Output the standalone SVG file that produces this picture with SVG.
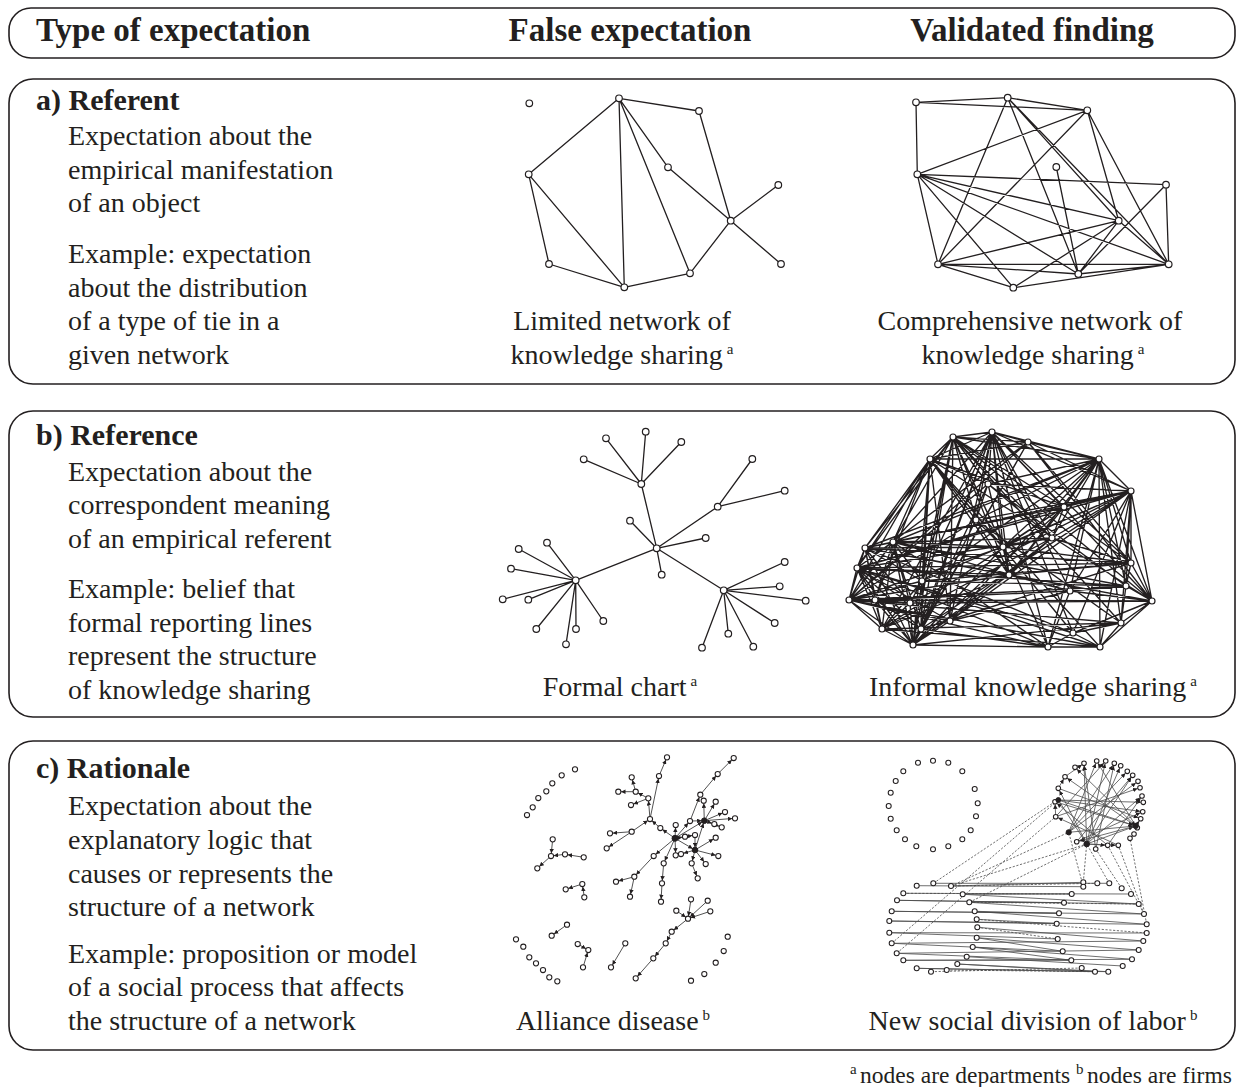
<svg xmlns="http://www.w3.org/2000/svg" width="1236" height="1087" viewBox="0 0 1236 1087">
<defs>
<style>
.box{fill:none;stroke:#231f20;stroke-width:1.6}
text{font-family:"Liberation Serif","Times New Roman",serif;fill:#231f20}
.h{font-size:33px;font-weight:bold}
.t{font-size:30px;font-weight:bold}
.b{font-size:28px}
.c{font-size:28px;text-anchor:middle}
.f{font-size:23.5px}
.sup{font-size:15px}
.e{stroke:#231f20;stroke-width:1.3;fill:none;stroke-linecap:round}
.ed{stroke:#231f20;stroke-width:1.35;fill:none}
.n{fill:#fff;stroke:#231f20;stroke-width:1.2}
.ec{stroke:#333;stroke-width:0.85;fill:none}
.eg{stroke:#4a4a4a;stroke-width:0.8;fill:none}
.dash{stroke-dasharray:2.2 1.6}
.ns{fill:#fff;stroke:#231f20;stroke-width:1.05}
.hub{fill:#231f20;stroke:#231f20;stroke-width:1}
</style>
<marker id="arr" viewBox="0 0 10 10" refX="16" refY="5" markerWidth="4.5" markerHeight="4.5" markerUnits="userSpaceOnUse" orient="auto">
<path d="M0 0L10 5L0 10z" fill="#231f20"/>
</marker>
</defs>
<rect width="1236" height="1087" fill="#fff"/>

<!-- column header -->
<g id="header">
<rect class="box" x="9" y="8" width="1226" height="50" rx="22"/>
<text class="h" x="36" y="41">Type of expectation</text>
<text class="h" x="630" y="41" text-anchor="middle">False expectation</text>
<text class="h" x="1032" y="41" text-anchor="middle">Validated finding</text>
</g>

<!-- row a: referent -->
<g id="row-a">
<rect class="box" x="9" y="79" width="1226" height="305" rx="24"/>
<text class="t" x="36" y="110">a) Referent</text>
<text class="b" x="68" y="145">Expectation about the</text>
<text class="b" x="68" y="179">empirical manifestation</text>
<text class="b" x="68" y="212">of an object</text>
<text class="b" x="68" y="263">Example: expectation</text>
<text class="b" x="68" y="297">about the distribution</text>
<text class="b" x="68" y="330">of a type of tie in a</text>
<text class="b" x="68" y="364">given network</text>
<text class="c" x="622" y="330">Limited network of</text>
<text class="c" x="622" y="364">knowledge sharing<tspan class="sup" dx="4" dy="-10">a</tspan></text>
<text class="c" x="1030" y="330">Comprehensive network of</text>
<text class="c" x="1033" y="364">knowledge sharing<tspan class="sup" dx="4" dy="-10">a</tspan></text>
</g>

<g id="net-a-false">
<g id="net-a-false-edges" class="e">
<path d="M619 98.3L699 111M619 98.3L528.7 174.3M619 98.3L624.3 287.3M619 98.3L690 273.3M619 98.3L668 167.3M668 167.3L730.7 220.7M699 111L730.7 220.7M730.7 220.7L778.3 185M730.7 220.7L781 264M730.7 220.7L690 273.3M528.7 174.3L549 264M528.7 174.3L624.3 287.3M549 264L624.3 287.3M624.3 287.3L690 273.3"/>
</g>
<g class="n">
<circle cx="529.3" cy="103.3" r="3.3"/><circle cx="619" cy="98.3" r="3.3"/><circle cx="699" cy="111" r="3.3"/><circle cx="528.7" cy="174.3" r="3.3"/><circle cx="668" cy="167.3" r="3.3"/><circle cx="778.3" cy="185" r="3.3"/><circle cx="730.7" cy="220.7" r="3.3"/><circle cx="549" cy="264" r="3.3"/><circle cx="781" cy="264" r="3.3"/><circle cx="624.3" cy="287.3" r="3.3"/><circle cx="690" cy="273.3" r="3.3"/>
</g>
</g>

<g id="net-a-valid">
<g id="net-a-valid-edges" class="e">
<path d="M916 102.3L1007.7 97.7M916 102.3L1087.3 110.3M916 102.3L917.3 174.3M1007.7 97.7L1087.3 110.3M1007.7 97.7L938 264.3M1007.7 97.7L1078.3 274M1007.7 97.7L1118.7 220.7M1007.7 97.7L1168.7 264.3M1087.3 110.3L917.3 174.3M1087.3 110.3L938 264.3M1087.3 110.3L1118.7 220.7M1087.3 110.3L1168.7 264.3M1056.3 167L1078.3 274M917.3 174.3L1166 184.7M917.3 174.3L1118.7 220.7M917.3 174.3L938 264.3M917.3 174.3L1078.3 274M917.3 174.3L1168.7 264.3M917.3 174.3L1013.3 287.7M1166 184.7L1168.7 264.3M1166 184.7L1078.3 274M1118.7 220.7L938 264.3M1118.7 220.7L1078.3 274M1118.7 220.7L1168.7 264.3M938 264.3L1078.3 274M938 264.3L1168.7 264.3M938 264.3L1013.3 287.7M1078.3 274L1168.7 264.3M1013.3 287.7L1168.7 264.3M1013.3 287.7L1118.7 220.7"/>
</g>
<g class="n">
<circle cx="916" cy="102.3" r="3.3"/><circle cx="1007.7" cy="97.7" r="3.3"/><circle cx="1087.3" cy="110.3" r="3.3"/><circle cx="1056.3" cy="167" r="3.3"/><circle cx="917.3" cy="174.3" r="3.3"/><circle cx="1166" cy="184.7" r="3.3"/><circle cx="1118.7" cy="220.7" r="3.3"/><circle cx="938" cy="264.3" r="3.3"/><circle cx="1078.3" cy="274" r="3.3"/><circle cx="1168.7" cy="264.3" r="3.3"/><circle cx="1013.3" cy="287.7" r="3.3"/>
</g>
</g>

<!-- row b: reference -->
<g id="row-b">
<rect class="box" x="9" y="411" width="1226" height="306" rx="24"/>
<text class="t" x="36" y="445">b) Reference</text>
<text class="b" x="68" y="481">Expectation about the</text>
<text class="b" x="68" y="514">correspondent meaning</text>
<text class="b" x="68" y="548">of an empirical referent</text>
<text class="b" x="68" y="598">Example: belief that</text>
<text class="b" x="68" y="632">formal reporting lines</text>
<text class="b" x="68" y="665">represent the structure</text>
<text class="b" x="68" y="699">of knowledge sharing</text>
<text class="c" x="620" y="696">Formal chart<tspan class="sup" dx="4" dy="-10">a</tspan></text>
<text class="c" x="1033" y="696">Informal knowledge sharing<tspan class="sup" dx="4" dy="-10">a</tspan></text>
</g>

<g id="net-b-false">
<g id="net-b-false-edges" class="e">
<path d="M656.7 548.3L641.3 484M656.7 548.3L717.7 506.7M656.7 548.3L575.7 580.3M656.7 548.3L723.7 590.3M641.3 484L606 438.3M641.3 484L645.7 431.7M641.3 484L681.3 442M641.3 484L583.7 459.3M717.7 506.7L752.3 459M717.7 506.7L784.7 490.7M656.7 548.3L630 520.7M656.7 548.3L705.7 538M656.7 548.3L661.7 574.7M575.7 580.3L547 542.7M575.7 580.3L518.7 549M575.7 580.3L511 568.7M575.7 580.3L502.7 599.3M575.7 580.3L528.3 599.7M575.7 580.3L536.3 629M575.7 580.3L566 644.3M575.7 580.3L576 629M575.7 580.3L603.3 621M723.7 590.3L784.7 562M723.7 590.3L779.7 586.3M723.7 590.3L805.7 600.7M723.7 590.3L774.7 623M723.7 590.3L753.3 646.7M723.7 590.3L728.3 633.7M723.7 590.3L702 647.7"/>
</g>
<g class="n">
<circle cx="656.7" cy="548.3" r="3.3"/><circle cx="641.3" cy="484" r="3.3"/><circle cx="717.7" cy="506.7" r="3.3"/><circle cx="575.7" cy="580.3" r="3.3"/><circle cx="723.7" cy="590.3" r="3.3"/>
<circle cx="606" cy="438.3" r="3.3"/><circle cx="645.7" cy="431.7" r="3.3"/><circle cx="681.3" cy="442" r="3.3"/><circle cx="583.7" cy="459.3" r="3.3"/><circle cx="752.3" cy="459" r="3.3"/><circle cx="784.7" cy="490.7" r="3.3"/><circle cx="630" cy="520.7" r="3.3"/><circle cx="705.7" cy="538" r="3.3"/><circle cx="661.7" cy="574.7" r="3.3"/>
<circle cx="547" cy="542.7" r="3.3"/><circle cx="518.7" cy="549" r="3.3"/><circle cx="511" cy="568.7" r="3.3"/><circle cx="502.7" cy="599.3" r="3.3"/><circle cx="528.3" cy="599.7" r="3.3"/><circle cx="536.3" cy="629" r="3.3"/><circle cx="566" cy="644.3" r="3.3"/><circle cx="576" cy="629" r="3.3"/><circle cx="603.3" cy="621" r="3.3"/>
<circle cx="784.7" cy="562" r="3.3"/><circle cx="779.7" cy="586.3" r="3.3"/><circle cx="805.7" cy="600.7" r="3.3"/><circle cx="774.7" cy="623" r="3.3"/><circle cx="753.3" cy="646.7" r="3.3"/><circle cx="728.3" cy="633.7" r="3.3"/><circle cx="702" cy="647.7" r="3.3"/>
</g>
</g>

<g id="net-b-valid">
<g id="net-b-valid-edges" class="ed">
<path d="M992 432L953 437M992 432L1028 442M992 432L930 459M992 432L1099 459M992 432L988 484M992 432L1064 507M992 432L976 520M992 432L1052 538M992 432L1003 547M992 432L1009 575M992 432L922 581M992 432L1070 591M992 432L950 621M992 432L921 629M992 432L1048 647M992 432L1073 633M992 432L893 542M992 432L1131 563M992 432L1131 491M992 432L913 645M992 432L1152 601
M953 437L1028 442M953 437L930 459M953 437L1099 459M953 437L988 484M953 437L976 520M953 437L893 542M953 437L865 548M953 437L1003 547M953 437L1009 575M953 437L922 581M953 437L950 621M953 437L921 629M953 437L1121 623M953 437L1052 538M953 437L1064 507M953 437L857 568M953 437L913 645M953 437L1152 601
M930 459L1028 442M930 459L1099 459M930 459L988 484M930 459L976 520M930 459L893 542M930 459L865 548M930 459L857 568M930 459L922 581M930 459L849 600M930 459L875 600M930 459L950 621M930 459L921 629M930 459L913 645M930 459L1003 547M930 459L1009 575M930 459L1064 507M930 459L1100 647
M1099 459L1028 442M1099 459L1131 491M1099 459L1064 507M1099 459L1052 538M1099 459L1003 547M1099 459L1131 563M1099 459L1009 575M1099 459L1070 591M1099 459L1126 586M1099 459L1152 601M1099 459L1121 623M1099 459L1048 647M1099 459L1100 647M1099 459L976 520M1099 459L988 484M1099 459L893 542M1099 459L922 581M1099 459L865 548
M1131 491L1028 442M1131 491L1064 507M1131 491L1052 538M1131 491L1131 563M1131 491L1070 591M1131 491L1126 586M1131 491L1152 601M1131 491L1121 623M1131 491L1100 647M1131 491L1003 547M1131 491L976 520M1131 491L893 542M1131 491L865 548M1131 491L857 568M1131 491L988 484M1131 491L922 581M1131 491L1073 633
M893 542L865 548M893 542L857 568M893 542L849 600M893 542L875 600M893 542L882 629M893 542L913 645M893 542L910 603M893 542L922 581M893 542L921 629M865 548L857 568M865 548L849 600M865 548L875 600M865 548L882 629M865 548L913 645M865 548L910 603M865 548L922 581M857 568L849 600M857 568L875 600M857 568L882 629M857 568L913 645M857 568L910 603M857 568L921 629M849 600L875 600M849 600L882 629M849 600L913 645M849 600L910 603M849 600L922 581M875 600L882 629M875 600L913 645M875 600L910 603M875 600L921 629M882 629L913 645M882 629L910 603M882 629L922 581M913 645L910 603M913 645L922 581M913 645L921 629M910 603L922 581M922 581L921 629M950 621L913 645M950 621L849 600M950 621L857 568
M857 568L1131 563M865 548L1131 563M857 568L1126 586M849 600L1152 601M865 548L1152 601M875 600L1152 601M849 600L1126 586M893 542L1126 586M857 568L1131 491M865 548L1099 459M893 542L1064 507M875 600L1070 591M882 629L1121 623M913 645L1121 623M849 600L1121 623M882 629L1100 647M913 645L1048 647M921 629L1048 647M950 621L1070 591M921 629L1131 563M910 603L1152 601M922 581L1126 586M922 581L1131 563M857 568L1052 538M865 548L1003 547M893 542L1003 547M865 548L1064 507M893 542L1052 538
M1131 563L1152 601M1131 563L1126 586M1152 601L1126 586M1152 601L1121 623M1152 601L1100 647M1152 601L1073 633M1152 601L1070 591M1126 586L1121 623M1126 586L1070 591M1121 623L1100 647M1121 623L1073 633M1048 647L1100 647M1048 647L1073 633M1100 647L1073 633M1070 591L1048 647M1070 591L1009 575M1131 563L1003 547M1131 563L1009 575M1131 563L1052 538M1052 538L1009 575M1052 538L1003 547M1052 538L1064 507M1064 507L1003 547M1064 507L1009 575M1003 547L1009 575M988 484L976 520M988 484L1003 547M988 484L1052 538M976 520L1003 547M976 520L1009 575
M1009 575L913 645M1009 575L849 600M1009 575L882 629M1003 547L913 645M1003 547L849 600M1048 647L849 600M1048 647L857 568M1100 647L857 568M1100 647L849 600M1073 633L865 548M1048 647L893 542M1028 442L857 568M1028 442L849 600M1028 442L913 645M988 484L913 645M988 484L849 600M976 520L849 600M976 520L913 645M950 621L1052 538M950 621L1099 459M921 629L1131 491M1052 538L913 645M1064 507L882 629M1064 507L857 568M1070 591L893 542M1073 633L857 568M992 432L1131 563M953 437L1131 563M930 459L1152 601M1028 442L1152 601M1028 442L1131 563M1028 442L1131 491
M953 437L1048 647M930 459L1073 633M992 432L882 629M1028 442L921 629M1099 459L950 621M1131 491L950 621M988 484L1126 586M976 520L1121 623M865 548L1009 575M857 568L1009 575M849 600L1003 547M1064 507L913 645M1052 538L882 629M910 603L1131 491M922 581L1099 459"/>
</g>
<g class="n">
<circle cx="953" cy="437" r="3"/><circle cx="992" cy="432" r="3"/><circle cx="1028" cy="442" r="3"/><circle cx="930" cy="459" r="3"/><circle cx="1099" cy="459" r="3"/><circle cx="1131" cy="491" r="3"/><circle cx="988" cy="484" r="3"/><circle cx="1064" cy="507" r="3"/><circle cx="976" cy="520" r="3"/><circle cx="893" cy="542" r="3"/><circle cx="865" cy="548" r="3"/><circle cx="1052" cy="538" r="3"/><circle cx="1003" cy="547" r="3"/><circle cx="857" cy="568" r="3"/><circle cx="1131" cy="563" r="3"/><circle cx="1009" cy="575" r="3"/><circle cx="922" cy="581" r="3"/><circle cx="849" cy="600" r="3"/><circle cx="875" cy="600" r="3"/><circle cx="1070" cy="591" r="3"/><circle cx="1126" cy="586" r="3"/><circle cx="1152" cy="601" r="3"/><circle cx="950" cy="621" r="3"/><circle cx="882" cy="629" r="3"/><circle cx="921" cy="629" r="3"/><circle cx="1121" cy="623" r="3"/><circle cx="913" cy="645" r="3"/><circle cx="1048" cy="647" r="3"/><circle cx="1100" cy="647" r="3"/><circle cx="1073" cy="633" r="3"/><circle cx="910" cy="603" r="3"/>
</g>
</g>

<!-- row c: rationale -->
<g id="row-c">
<rect class="box" x="9" y="741" width="1226" height="309" rx="24"/>
<text class="t" x="36" y="778">c) Rationale</text>
<text class="b" x="68" y="815">Expectation about the</text>
<text class="b" x="68" y="849">explanatory logic that</text>
<text class="b" x="68" y="883">causes or represents the</text>
<text class="b" x="68" y="916">structure of a network</text>
<text class="b" x="68" y="963">Example: proposition or model</text>
<text class="b" x="68" y="996">of a social process that affects</text>
<text class="b" x="68" y="1030">the structure of a network</text>
<text class="c" x="613" y="1030">Alliance disease<tspan class="sup" dx="4" dy="-10">b</tspan></text>
<text class="c" x="1033" y="1030">New social division of labor<tspan class="sup" dx="4" dy="-10">b</tspan></text>
</g>

<g id="net-c-false">
<g id="net-c-false-edges" class="ec" marker-end="url(#arr)">
<line x1="552.7" y1="839.3" x2="551" y2="856"/><line x1="551" y1="856" x2="537.3" y2="868.3"/><line x1="565" y1="854.3" x2="551" y2="856"/><line x1="583.7" y1="857.3" x2="565" y2="854.3"/>
<line x1="582.3" y1="884" x2="565.7" y2="889.3"/><line x1="584.3" y1="897.3" x2="582.3" y2="884"/>
<line x1="567" y1="924.7" x2="551.7" y2="935.7"/>
<line x1="577.7" y1="944" x2="588.3" y2="950"/><line x1="583" y1="967.3" x2="588.3" y2="950"/>
<line x1="625.3" y1="943.3" x2="611" y2="967.3"/>
<line x1="691" y1="899.3" x2="688" y2="918.7"/><line x1="707.7" y1="900.7" x2="688" y2="918.7"/><line x1="710.3" y1="911.3" x2="688" y2="918.7"/><line x1="676.3" y1="910.7" x2="688" y2="918.7"/><line x1="688" y1="918.7" x2="671.7" y2="931.7"/><line x1="671.7" y1="931.7" x2="665.7" y2="943.3"/><line x1="665.7" y1="943.3" x2="653.3" y2="958.3"/><line x1="653.3" y1="958.3" x2="635.7" y2="978.3"/>
<line x1="650" y1="819" x2="659" y2="776"/><line x1="659" y1="776" x2="667" y2="757.3"/><line x1="650" y1="819" x2="648.3" y2="798.3"/><line x1="648.3" y1="798.3" x2="635.7" y2="791.7"/><line x1="635.7" y1="791.7" x2="631.7" y2="777.3"/><line x1="635.7" y1="791.7" x2="618.3" y2="791.7"/><line x1="648.3" y1="798.3" x2="631" y2="805"/>
<line x1="675" y1="838.3" x2="660.3" y2="828"/><line x1="660.3" y1="828" x2="650" y2="819"/><line x1="631.7" y1="831.7" x2="650" y2="819"/><line x1="631.7" y1="831.7" x2="610" y2="833.3"/><line x1="631.7" y1="831.7" x2="606.7" y2="848.3"/>
<line x1="675" y1="838.3" x2="653.7" y2="856"/><line x1="653.7" y1="856" x2="634.3" y2="876.7"/><line x1="634.3" y1="876.7" x2="616" y2="881.7"/><line x1="634.3" y1="876.7" x2="630" y2="896.7"/>
<line x1="675" y1="838.3" x2="663.7" y2="863.3"/><line x1="663.7" y1="863.3" x2="662" y2="883.3"/><line x1="662" y1="883.3" x2="661" y2="901.7"/>
<line x1="675" y1="838.3" x2="675.7" y2="855.3"/><line x1="675" y1="838.3" x2="675.7" y2="825"/><line x1="675" y1="838.3" x2="690" y2="821"/><line x1="690" y1="821" x2="700.3" y2="794.7"/><line x1="700.3" y1="794.7" x2="717.7" y2="774"/><line x1="717.7" y1="774" x2="733.7" y2="758"/>
<line x1="675" y1="838.3" x2="685" y2="836.7"/><line x1="685" y1="836.7" x2="695" y2="835"/><line x1="675" y1="838.3" x2="695" y2="850"/><line x1="695" y1="850" x2="681" y2="854"/><line x1="695" y1="850" x2="691.7" y2="863.3"/><line x1="691.7" y1="863.3" x2="697.7" y2="878.3"/><line x1="695" y1="850" x2="705.7" y2="864"/><line x1="695" y1="850" x2="718.3" y2="856"/><line x1="695" y1="850" x2="715.7" y2="837.7"/>
<line x1="675" y1="838.3" x2="704.3" y2="820.7"/><line x1="704.3" y1="820.7" x2="703.7" y2="800.7"/><line x1="704.3" y1="820.7" x2="715.7" y2="801.7"/><line x1="704.3" y1="820.7" x2="725" y2="812"/><line x1="704.3" y1="820.7" x2="735" y2="818.3"/><line x1="704.3" y1="820.7" x2="721.7" y2="827.3"/><line x1="704.3" y1="820.7" x2="714.3" y2="824"/><line x1="695" y1="850" x2="704.3" y2="820.7"/><line x1="695" y1="835" x2="695" y2="850"/><line x1="690" y1="821" x2="704.3" y2="820.7"/>
</g>
<g class="ns">
<circle cx="575" cy="769.3" r="2.6"/><circle cx="561.7" cy="775.3" r="2.6"/><circle cx="552.3" cy="783.3" r="2.6"/><circle cx="546.3" cy="791.3" r="2.6"/><circle cx="538.3" cy="798" r="2.6"/><circle cx="532.7" cy="807.3" r="2.6"/><circle cx="527" cy="815" r="2.6"/>
<circle cx="516" cy="939.3" r="2.6"/><circle cx="523.3" cy="946.7" r="2.6"/><circle cx="529.3" cy="957.3" r="2.6"/><circle cx="536" cy="963.3" r="2.6"/><circle cx="543" cy="970" r="2.6"/><circle cx="549.3" cy="977.3" r="2.6"/><circle cx="557.3" cy="981.3" r="2.6"/>
<circle cx="727.7" cy="936.7" r="2.6"/><circle cx="723.7" cy="951" r="2.6"/><circle cx="715.7" cy="962.7" r="2.6"/><circle cx="704.3" cy="974" r="2.6"/><circle cx="691" cy="980.7" r="2.6"/>
<circle cx="552.7" cy="839.3" r="2.6"/><circle cx="551" cy="856" r="2.6"/><circle cx="537.3" cy="868.3" r="2.6"/><circle cx="565" cy="854.3" r="2.6"/><circle cx="583.7" cy="857.3" r="2.6"/>
<circle cx="582.3" cy="884" r="2.6"/><circle cx="565.7" cy="889.3" r="2.6"/><circle cx="584.3" cy="897.3" r="2.6"/>
<circle cx="567" cy="924.7" r="2.6"/><circle cx="551.7" cy="935.7" r="2.6"/>
<circle cx="577.7" cy="944" r="2.6"/><circle cx="588.3" cy="950" r="2.6"/><circle cx="583" cy="967.3" r="2.6"/>
<circle cx="625.3" cy="943.3" r="2.6"/><circle cx="611" cy="967.3" r="2.6"/>
<circle cx="688" cy="918.7" r="2.6"/><circle cx="691" cy="899.3" r="2.6"/><circle cx="707.7" cy="900.7" r="2.6"/><circle cx="710.3" cy="911.3" r="2.6"/><circle cx="676.3" cy="910.7" r="2.6"/><circle cx="671.7" cy="931.7" r="2.6"/><circle cx="665.7" cy="943.3" r="2.6"/><circle cx="653.3" cy="958.3" r="2.6"/><circle cx="635.7" cy="978.3" r="2.6"/>
<circle cx="650" cy="819" r="2.6"/><circle cx="659" cy="776" r="2.6"/><circle cx="667" cy="757.3" r="2.6"/><circle cx="648.3" cy="798.3" r="2.6"/><circle cx="635.7" cy="791.7" r="2.6"/><circle cx="631.7" cy="777.3" r="2.6"/><circle cx="618.3" cy="791.7" r="2.6"/><circle cx="631" cy="805" r="2.6"/><circle cx="660.3" cy="828" r="2.6"/><circle cx="631.7" cy="831.7" r="2.6"/><circle cx="610" cy="833.3" r="2.6"/><circle cx="606.7" cy="848.3" r="2.6"/><circle cx="653.7" cy="856" r="2.6"/><circle cx="634.3" cy="876.7" r="2.6"/><circle cx="616" cy="881.7" r="2.6"/><circle cx="630" cy="896.7" r="2.6"/><circle cx="663.7" cy="863.3" r="2.6"/><circle cx="662" cy="883.3" r="2.6"/><circle cx="661" cy="901.7" r="2.6"/><circle cx="675.7" cy="855.3" r="2.6"/><circle cx="675.7" cy="825" r="2.6"/><circle cx="690" cy="821" r="2.6"/><circle cx="700.3" cy="794.7" r="2.6"/><circle cx="717.7" cy="774" r="2.6"/><circle cx="733.7" cy="758" r="2.6"/><circle cx="681" cy="854" r="2.6"/><circle cx="691.7" cy="863.3" r="2.6"/><circle cx="697.7" cy="878.3" r="2.6"/><circle cx="705.7" cy="864" r="2.6"/><circle cx="718.3" cy="856" r="2.6"/><circle cx="715.7" cy="837.7" r="2.6"/><circle cx="703.7" cy="800.7" r="2.6"/><circle cx="715.7" cy="801.7" r="2.6"/><circle cx="725" cy="812" r="2.6"/><circle cx="735" cy="818.3" r="2.6"/><circle cx="721.7" cy="827.3" r="2.6"/><circle cx="714.3" cy="824" r="2.6"/><circle cx="685" cy="836.7" r="2.6"/><circle cx="695" cy="835" r="2.6"/>
</g>
<g class="hub"><circle cx="675" cy="838.3" r="3"/><circle cx="695" cy="850" r="2.8"/><circle cx="704.3" cy="820.7" r="2.8"/></g>
</g>

<g id="net-c-valid">
<g id="net-c-valid-edges">
<g class="eg dash">
<path d="M933.3 883.3L1055 801.7M951 886L1086.7 844M951 886L1068.7 832.3M969.3 902.3L1086.7 844M896.7 953.3L1055.7 816.7M891.7 943.3L1058.3 800M1083.3 882.3L1086.7 844M1109.3 883.3L1086.7 844M1144 914L1118.3 845.3M1146.7 924.3L1130 838.3M1121.7 888.3L1095.7 849M1144 914L1107.7 845.3M1083.3 886.7L1068.7 832.3
M951 886L1097.3 883.3M903.3 893.3L1071.7 894M976.7 919.3L1146.7 933M977.3 927.3L1057.7 939M931 971.7L1081.7 968M946.7 970L1095 971.7M969.3 902.3L1138.7 904"/>
</g>
<g class="eg">
<path d="M916.7 885.7L1083.3 886.7M951 886L1083.3 882.3M903.3 893.3L1131 894M962.7 894.3L1138.7 904M962.7 894.3L1071.7 894M897 900.3L1138.7 904M897 900.3L1064 902.7M969.3 902.3L1144 914M969.3 902.3L1064 902.7M891.7 911.3L1144 914M891.7 911.3L1059 913.3M974.7 911.3L1146.7 924.3M974.7 911.3L1059 913.3M889.3 921L1056.7 923.7M889.3 921L1146.7 924.3M976.7 919.3L1056.7 923.7M889.3 932.7L1146.7 933M889.3 932.7L1057.7 939M977.3 927.3L1143.3 941M891.7 943.3L1143.3 941M891.7 943.3L1062.7 951.3M976.7 937.7L1138.7 950M976.7 937.7L1062.7 951.3M896.7 953.3L1138.7 950M896.7 953.3L1071.3 960.3M972.7 947L1132 959.3M972.7 947L1071.3 960.3M903.3 960.3L1132 959.3M966.7 956.7L1122.7 966M903.3 960.3L1071.3 960.3M957.3 964L1095 971.7M916.7 968.3L1095 971.7M916.7 968.3L1108.3 971.7M957.3 964L1108.3 971.7M933.3 883.3L1109.3 883.3"/>
</g>
<g class="eg" marker-end="url(#arr)">
<line x1="1058.3" y1="800" x2="1135.7" y2="826"/><line x1="1058.3" y1="800" x2="1143.3" y2="802.3"/><line x1="1058.3" y1="800" x2="1142.7" y2="811.7"/><line x1="1058.3" y1="800" x2="1086.7" y2="844"/><line x1="1055" y1="801.7" x2="1135.7" y2="826"/><line x1="1055.7" y1="816.7" x2="1140" y2="787.7"/><line x1="1055.7" y1="816.7" x2="1105.7" y2="761"/><line x1="1058.3" y1="788.3" x2="1140.7" y2="818.7"/><line x1="1068.7" y1="832.3" x2="1096.7" y2="761"/><line x1="1068.7" y1="832.3" x2="1114.3" y2="763.3"/><line x1="1068.7" y1="832.3" x2="1127.3" y2="771.3"/><line x1="1068.7" y1="832.3" x2="1138" y2="781.3"/><line x1="1068.7" y1="832.3" x2="1135.7" y2="826"/><line x1="1086.7" y1="844" x2="1084" y2="763.3"/><line x1="1086.7" y1="844" x2="1105.7" y2="761"/><line x1="1086.7" y1="844" x2="1120.7" y2="765.7"/><line x1="1086.7" y1="844" x2="1132.7" y2="775.3"/><line x1="1086.7" y1="844" x2="1142" y2="796"/><line x1="1086.7" y1="844" x2="1135.7" y2="826"/><line x1="1086.7" y1="844" x2="1058.3" y2="788.3"/><line x1="1135.7" y1="826" x2="1075" y2="767.3"/><line x1="1135.7" y1="826" x2="1065" y2="776.7"/><line x1="1135.7" y1="826" x2="1096.7" y2="761"/><line x1="1135.7" y1="826" x2="1076.7" y2="841.7"/><line x1="1076.7" y1="841.7" x2="1132.7" y2="775.3"/><line x1="1095.7" y1="849" x2="1114.3" y2="763.3"/><line x1="1107.7" y1="845.3" x2="1055" y2="801.7"/><line x1="1118.3" y1="845.3" x2="1055.7" y2="816.7"/><line x1="1065" y1="776.7" x2="1084" y2="763.3"/><line x1="1058.3" y1="788.3" x2="1065" y2="776.7"/><line x1="1055.7" y1="816.7" x2="1055" y2="801.7"/><line x1="1130" y1="838.3" x2="1134" y2="834"/><line x1="1135.7" y1="826" x2="1137.3" y2="827.7"/><line x1="1135.7" y1="826" x2="1140.7" y2="818.7"/><line x1="1095.7" y1="849" x2="1084" y2="763.3"/><line x1="1107.7" y1="845.3" x2="1142" y2="796"/><line x1="1076.7" y1="841.7" x2="1142.7" y2="811.7"/><line x1="1086.7" y1="844" x2="1118.3" y2="845.3"/><line x1="1086.7" y1="844" x2="1107.7" y2="845.3"/>
</g>
</g>
<g class="ns">
<circle cx="918" cy="762.7" r="2.5"/><circle cx="933" cy="760.7" r="2.5"/><circle cx="948.3" cy="762.7" r="2.5"/><circle cx="962.3" cy="771.3" r="2.5"/><circle cx="974.7" cy="789" r="2.5"/><circle cx="977.7" cy="803.3" r="2.5"/><circle cx="976" cy="816.3" r="2.5"/><circle cx="970.7" cy="830.3" r="2.5"/><circle cx="962.3" cy="839.3" r="2.5"/><circle cx="948.3" cy="846.3" r="2.5"/><circle cx="933" cy="849.3" r="2.5"/><circle cx="916.3" cy="846.3" r="2.5"/><circle cx="905" cy="839.3" r="2.5"/><circle cx="896.7" cy="830.3" r="2.5"/><circle cx="890.7" cy="818.7" r="2.5"/><circle cx="888.7" cy="806" r="2.5"/><circle cx="890.7" cy="792.7" r="2.5"/><circle cx="895.7" cy="781" r="2.5"/><circle cx="903.3" cy="771.3" r="2.5"/>
<circle cx="1075" cy="767.3" r="2.3"/><circle cx="1084" cy="763.3" r="2.3"/><circle cx="1096.7" cy="761" r="2.3"/><circle cx="1105.7" cy="761" r="2.3"/><circle cx="1114.3" cy="763.3" r="2.3"/><circle cx="1120.7" cy="765.7" r="2.3"/><circle cx="1127.3" cy="771.3" r="2.3"/><circle cx="1132.7" cy="775.3" r="2.3"/><circle cx="1138" cy="781.3" r="2.3"/><circle cx="1140" cy="787.7" r="2.3"/><circle cx="1142" cy="796" r="2.3"/><circle cx="1143.3" cy="802.3" r="2.3"/><circle cx="1142.7" cy="811.7" r="2.3"/><circle cx="1140.7" cy="818.7" r="2.3"/><circle cx="1137.3" cy="827.7" r="2.3"/><circle cx="1134" cy="834" r="2.3"/><circle cx="1130" cy="838.3" r="2.3"/><circle cx="1118.3" cy="845.3" r="2.3"/><circle cx="1107.7" cy="845.3" r="2.3"/><circle cx="1095.7" cy="849" r="2.3"/><circle cx="1076.7" cy="841.7" r="2.3"/><circle cx="1055.7" cy="816.7" r="2.3"/><circle cx="1055" cy="801.7" r="2.3"/><circle cx="1058.3" cy="788.3" r="2.3"/><circle cx="1065" cy="776.7" r="2.3"/>
<circle cx="916.7" cy="885.7" r="2.5"/><circle cx="903.3" cy="893.3" r="2.5"/><circle cx="897" cy="900.3" r="2.5"/><circle cx="891.7" cy="911.3" r="2.5"/><circle cx="889.3" cy="921" r="2.5"/><circle cx="889.3" cy="932.7" r="2.5"/><circle cx="891.7" cy="943.3" r="2.5"/><circle cx="896.7" cy="953.3" r="2.5"/><circle cx="903.3" cy="960.3" r="2.5"/><circle cx="916.7" cy="968.3" r="2.5"/><circle cx="931" cy="971.7" r="2.5"/><circle cx="946.7" cy="970" r="2.5"/>
<circle cx="933.3" cy="883.3" r="2.5"/><circle cx="951" cy="886" r="2.5"/><circle cx="962.7" cy="894.3" r="2.5"/><circle cx="969.3" cy="902.3" r="2.5"/><circle cx="974.7" cy="911.3" r="2.5"/><circle cx="976.7" cy="919.3" r="2.5"/><circle cx="977.3" cy="927.3" r="2.5"/><circle cx="976.7" cy="937.7" r="2.5"/><circle cx="972.7" cy="947" r="2.5"/><circle cx="966.7" cy="956.7" r="2.5"/><circle cx="957.3" cy="964" r="2.5"/>
<circle cx="1083.3" cy="882.3" r="2.5"/><circle cx="1097.3" cy="883.3" r="2.5"/><circle cx="1109.3" cy="883.3" r="2.5"/><circle cx="1121.7" cy="888.3" r="2.5"/><circle cx="1131" cy="894" r="2.5"/><circle cx="1138.7" cy="904" r="2.5"/><circle cx="1144" cy="914" r="2.5"/><circle cx="1146.7" cy="924.3" r="2.5"/><circle cx="1146.7" cy="933" r="2.5"/><circle cx="1143.3" cy="941" r="2.5"/><circle cx="1138.7" cy="950" r="2.5"/><circle cx="1132" cy="959.3" r="2.5"/><circle cx="1122.7" cy="966" r="2.5"/><circle cx="1108.3" cy="971.7" r="2.5"/><circle cx="1095" cy="971.7" r="2.5"/><circle cx="1081.7" cy="968" r="2.5"/>
<circle cx="1083.3" cy="886.7" r="2.5"/><circle cx="1071.7" cy="894" r="2.5"/><circle cx="1064" cy="902.7" r="2.5"/><circle cx="1059" cy="913.3" r="2.5"/><circle cx="1056.7" cy="923.7" r="2.5"/><circle cx="1057.7" cy="939" r="2.5"/><circle cx="1062.7" cy="951.3" r="2.5"/><circle cx="1071.3" cy="960.3" r="2.5"/>
</g>
<g class="hub"><circle cx="1086.7" cy="844" r="2.8"/><circle cx="1135.7" cy="826" r="2.6"/><circle cx="1068.7" cy="832.3" r="2.6"/><circle cx="1058.3" cy="800" r="2.4"/></g>
</g>

<!-- footnotes -->
<g id="footnotes">
<text class="sup" x="850" y="1074">a</text>
<text class="f" x="860" y="1083">nodes are departments</text>
<text class="sup" x="1076" y="1074">b</text>
<text class="f" x="1087" y="1083">nodes are firms</text>
</g>
</svg>
